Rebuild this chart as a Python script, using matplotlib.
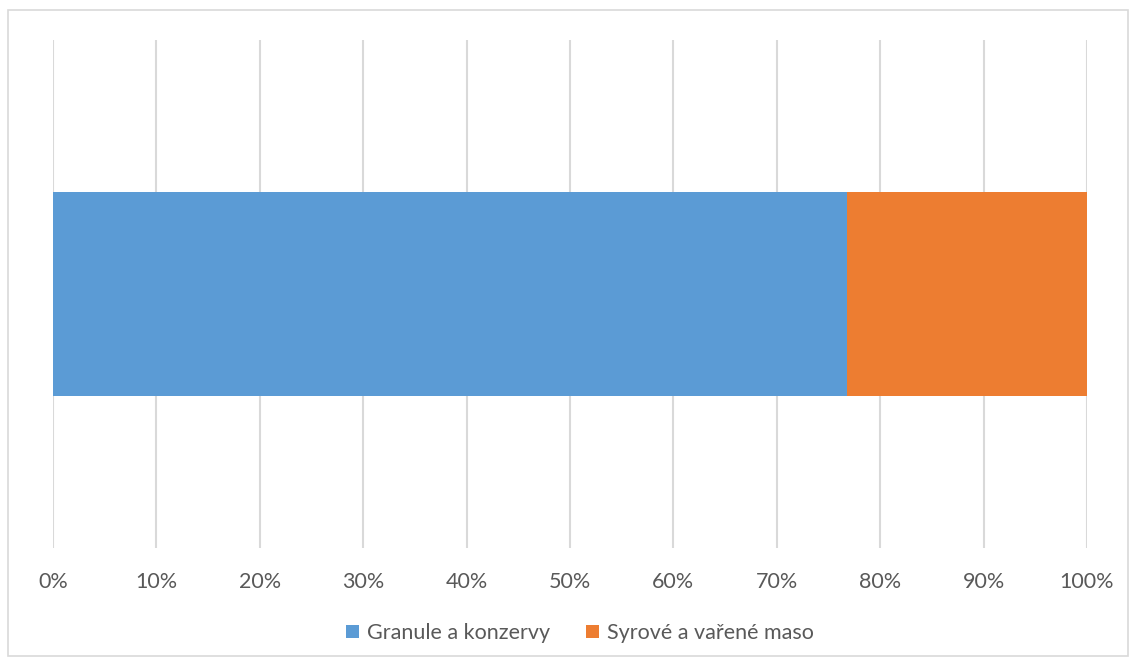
import matplotlib.pyplot as plt
from matplotlib.patches import Rectangle

# data
categories = ['']
series_names = ['Granule a konzervy', 'Syrové a vařené maso']
series_values = [[76.8], [23.2]]
colors = ['#5b9bd5', '#ed7d31']
tick_values = list(range(0, 101, 10))
tick_labels = [f'{v}%' for v in tick_values]

plt.rcParams['font.family'] = ['Lato', 'DejaVu Sans']

fig = plt.figure(figsize=(11.32, 6.64), dpi=100)
W, H = 1132, 664
ax = fig.add_axes([53 / W, 1 - 548 / H, (1087 - 53) / W, (548 - 40) / H])

left = [0.0] * len(categories)
handles = []
for name, vals, c in zip(series_names, series_values, colors):
    b = ax.barh(categories, vals, left=left, height=0.4, color=c, label=name, zorder=3)
    handles.append(b)
    left = [l + v for l, v in zip(left, vals)]

ax.set_xlim(0, 100)
ax.set_ylim(-0.5, 0.5)
ax.set_xticks(tick_values)
ax.set_xticklabels(tick_labels, fontsize=15.5, color='#595959')
ax.set_yticks([])
ax.tick_params(axis='x', length=0, pad=17)
ax.grid(axis='x', color='#d9d9d9', linewidth=1.5, zorder=0)
for s in ax.spines.values():
    s.set_visible(False)

leg = fig.legend(handles=handles, loc='center', bbox_to_anchor=(580 / W, 1 - 633 / H),
                 ncol=2, frameon=False, fontsize=15.5, handlelength=0.6, handleheight=0.6,
                 handletextpad=0.35, columnspacing=1.7)
for t in leg.get_texts():
    t.set_color('#595959')

# light border round the chart area
fig.patches.append(Rectangle((8 / W, 8 / H), 1120 / W, 646 / H, transform=fig.transFigure,
                             fill=False, edgecolor='#d9d9d9', linewidth=1.2))

fig.savefig('out.png', dpi=100, facecolor='white')
